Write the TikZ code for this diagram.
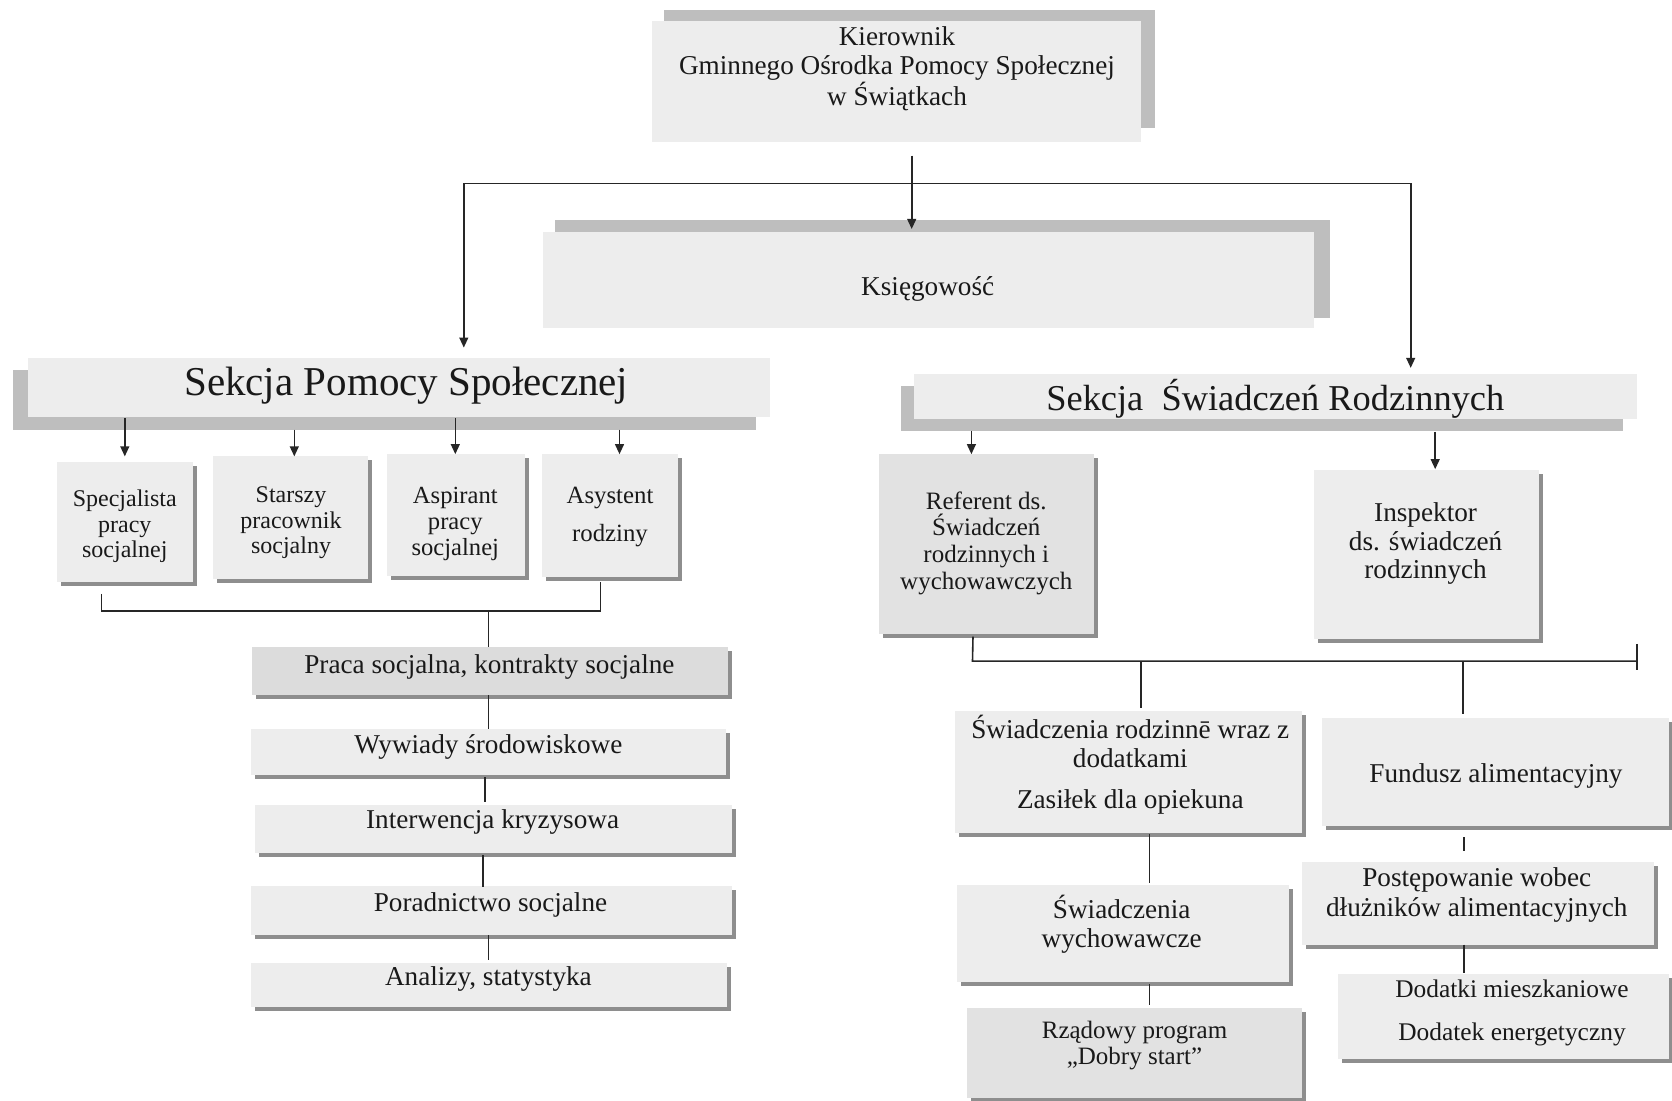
\documentclass[tikz,border=0pt]{standalone}
\usepackage{fontspec}
\setmainfont{Liberation Serif}
\usetikzlibrary{arrows.meta,fit,calc}
\newcommand\mkbox[6]{%
  \path (#2,#3) coordinate (#1-nw) (#4,#5) coordinate (#1-se);
  \node[boxf, fill=#6, fit=(#1-nw)(#1-se)] (#1) {};}
\newcommand\mksh[5]{%
  \fill[smsh] ($(#2,#3)+(4,4)$) rectangle ($(#4,#5)+(4,4)$);
  \mkbox{#1}{#2}{#3}{#4}{#5}{boxgray}}
\definecolor{boxgray}{HTML}{EDEDED}
\definecolor{boxdark}{HTML}{DCDCDC}
\definecolor{boxmid}{HTML}{E2E2E2}
\definecolor{bigshadow}{HTML}{BEBEBE}
\definecolor{smshadow}{HTML}{8E8E8E}
\begin{document}
\begin{tikzpicture}[x=0.5pt,y=-0.5pt,
  boxf/.style={inner sep=0pt, outer sep=0pt, draw=none, rectangle},
  smsh/.style={fill=smshadow},
  conn/.style={line width=0.8pt, draw=black!85},
  arw/.style={conn,-{Triangle[length=5pt,width=4.4pt]}},
  txt/.style={inner sep=0pt, align=center, text=black!90, yshift=-1.5pt},
  fK/.style={font=\fontsize{13.6pt}{14.5pt}\selectfont},
  fS/.style={font=\fontsize{12pt}{12.8pt}\selectfont},
  fM/.style={font=\fontsize{13.6pt}{14.3pt}\selectfont},
]
\useasboundingbox (0,0) rectangle (1672,1101);
\fill[white] (0,0) rectangle (1672,1101);

% ---------- big boxes with grey offset shadows ----------
\fill[bigshadow] (664,10) rectangle (1155,128);
\mkbox{kier}{651.5}{21.3}{1141}{141.8}{boxgray}
\node[txt,fK] (kiert) at (897,65.5) {Kierownik\\Gminnego Ośrodka Pomocy Społecznej\\w Świątkach};

\fill[bigshadow] (554.5,219.7) rectangle (1329.7,317.8);
\mkbox{ksieg}{542.7}{232.5}{1313.7}{328.4}{boxgray}
\node[txt,fK] (ksiegt) at (927.7,285.5) {Księgowość};

\fill[bigshadow] (12.8,370) rectangle (756,429.7);
\mkbox{sps}{27.7}{358.3}{769.9}{416.9}{boxgray}
\node[txt,font=\fontsize{20.5pt}{22pt}\selectfont] (spst) at (406.3,382.5) {Sekcja Pomocy Społecznej};

\fill[bigshadow] (901,386) rectangle (1622.9,430.8);
\mkbox{ssr}{913.8}{374.3}{1636.8}{419}{boxgray}
\node[txt,font=\fontsize{18.2pt}{20pt}\selectfont] (ssrt) at (1275.3,395.5) {Sekcja\ \ Świadczeń Rodzinnych};

% ---------- small boxes (left) ----------
\mksh{b1}{56.5}{461.7}{193}{582.2}
\node[txt,fS] (b1t) at (124.8,523.6) {Specjalista\\pracy\\socjalnej};
\mksh{b2}{213.3}{456.4}{367.9}{579}
\node[txt,fS] (b2t) at (291,520) {Starszy\\pracownik\\socjalny};
\mksh{b3}{387}{454.2}{524.6}{575.8}
\node[txt,font=\fontsize{12.3pt}{12.8pt}\selectfont] (b3t) at (455.3,521) {Aspirant\\pracy\\socjalnej};
\mksh{b4}{541.7}{454.2}{678.2}{576.9}
\node[txt,font=\fontsize{12.4pt}{19pt}\selectfont] (b4t) at (610,514) {Asystent\\rodziny};

% ---------- left column ----------
\fill[smsh] (255.6,651.3) rectangle (732.3,699.2);
\mkbox{c1}{251.6}{647.3}{728.3}{695.2}{boxdark}
\node[txt,fM] (c1t) at (489.4,664.3) {Praca socjalna, kontrakty socjalne};
\mksh{c2}{250.6}{729.3}{726.2}{775.2}
\node[txt,fM] (c2t) at (488.4,744.3) {Wywiady środowiskowe};
\mksh{c3}{254.8}{805}{731.5}{853}
\node[txt,fM] (c3t) at (492.6,818.9) {Interwencja kryzysowa};
\mksh{c4}{250.6}{886}{731.5}{935.1}
\node[txt,fM] (c4t) at (490.5,902.1) {Poradnictwo socjalne};
\mksh{c5}{250.6}{962.9}{727.2}{1006.6}
\node[txt,fM] (c5t) at (488.4,975.7) {Analizy, statystyka};

% ---------- right side ----------
\fill[smsh] (882.6,458.2) rectangle (1098,638.4);
\mkbox{r1}{878.6}{454.2}{1094}{634.4}{boxmid}
\node[txt,font=\fontsize{12.5pt}{13.3pt}\selectfont] (r1t) at (986.3,540) {Referent ds.\\Świadczeń\\rodzinnych i\\wychowawczych};
\mksh{r2}{1313.7}{470.2}{1538.7}{638.7}
\node[txt,font=\fontsize{13.6pt}{14.4pt}\selectfont] (r2t) at (1425.6,540.6) {Inspektor\\ds. świadczeń\\rodzinnych};

\mksh{d1}{955.4}{711.2}{1302}{832.8}
\node[txt,fM] (d1t) at (1130.3,762) {Świadczenia rodzinnē wraz z\\dodatkami\\[6.5pt]Zasiłek dla opiekuna};
\mksh{d2}{956.5}{885}{1289.2}{982.1}
\node[txt,font=\fontsize{13.6pt}{14.4pt}\selectfont] (d2t) at (1121.7,921) {Świadczenia\\wychowawcze};
\fill[smsh] (971.1,1011.7) rectangle (1306,1102.3);
\mkbox{d3}{967.1}{1007.7}{1302}{1098.3}{boxmid}
\node[txt,font=\fontsize{12.5pt}{13.3pt}\selectfont] (d3t) at (1134.5,1042.5) {Rządowy program\\„Dobry start”};

\mksh{e1}{1322.2}{717.6}{1668.8}{826.4}
\node[txt,fM] (e1t) at (1496,773) {Fundusz alimentacyjny};
\mksh{e2}{1302}{861.6}{1653.8}{944.7}
\node[txt,font=\fontsize{13.6pt}{15pt}\selectfont] (e2t) at (1476.8,891.5) {Postępowanie wobec\\dłużników alimentacyjnych};
\mksh{e3}{1338.2}{973.5}{1668.8}{1058.8}
\node[txt,font=\fontsize{12.7pt}{21.3pt}\selectfont] (e3t) at (1512,1009.8) {Dodatki mieszkaniowe\\Dodatek energetyczny};

% ---------- connectors ----------
\coordinate (k0) at (911.7,155.7);
\coordinate (k1) at (911.7,183.4);
\coordinate (kl) at (463.8,183.4);
\coordinate (kr) at (1410.7,183.4);
\draw[conn] (k0) -- (k1);
\draw[conn] (kl) -- (kr);
\draw[arw] (k1) -- (911.7,229);
\draw[arw] (kl) -- (463.8,347.6);
\draw[arw] (kr) -- (1410.7,367.9);

% left section arrows
\draw[arw] (124.8,418) -- (124.8,456.4);
\draw[arw] (294.3,429.7) -- (294.3,456.4);
\draw[arw] (455.3,418) -- (455.3,454.2);
\draw[arw] (619.5,429.7) -- (619.5,454.2);

% left collector
\coordinate (lc1) at (101.3,611);
\coordinate (lc2) at (600.3,611);
\coordinate (lcm) at (488.4,611);
\draw[conn] (101.3,594) -- (lc1) -- (lc2) -- (600.3,582.2);
\draw[conn] (lcm) -- (lcm |- c1.north);
\draw[conn] (lcm |- c1.south) -- (lcm |- c2.north);
\draw[conn] (485.2,777.3) -- (485.2,801.9);
\draw[conn] (483,855.2) -- (483,887.2);
\draw[conn] (488.4,935.1) -- (488.4,959.7);

% right section arrows
\draw[arw] (971.4,430.8) -- (971.4,454.2);
\draw[arw] (1435.2,431.9) -- (1435.2,469.2);

% right collector
\coordinate (rc1) at (972.5,661.1);
\coordinate (rc2) at (1636.8,661.1);
\draw[conn] (973,636.6) -- (rc1) -- (rc2);
\draw[conn] (1636.8,644) -- (1636.8,669.6);
\draw[conn] (1141,661.1) -- (1141,708);
\draw[conn] (1463,661.1) -- (1463,714.4);
\draw[conn] (1149.5,833.9) -- (1149.5,882.9);
\draw[conn] (1149.5,984.2) -- (1149.5,1004.5);
\draw[conn] (1464,837) -- (1464,851);
\draw[conn] (1464,944.7) -- (1464,972.5);
\end{tikzpicture}
\end{document}
